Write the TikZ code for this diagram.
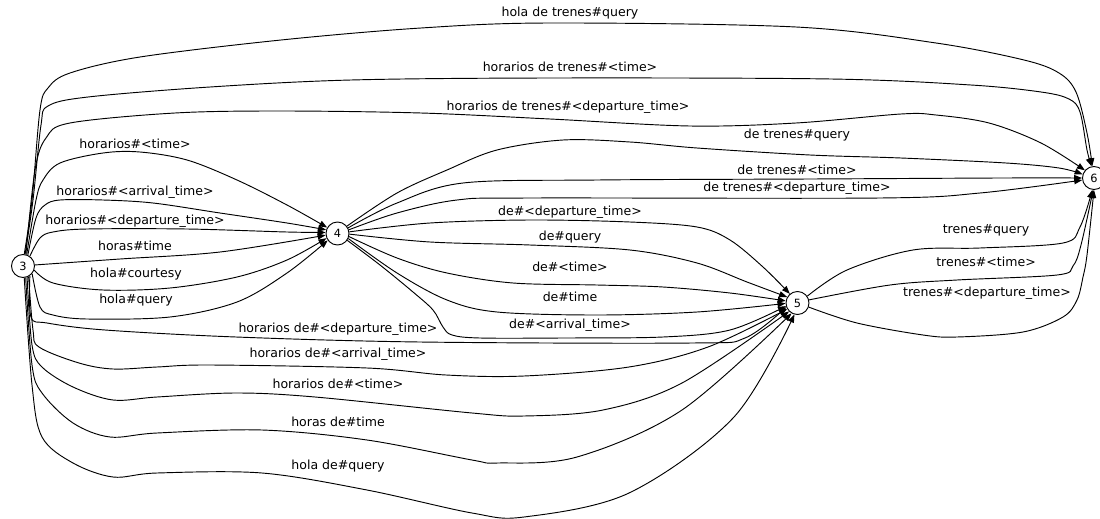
\documentclass[tikz,border=0pt]{standalone}
\usepackage{fontspec}
\setmainfont{DejaVu Sans}
\usetikzlibrary{arrows.meta}
\begin{document}
\begin{tikzpicture}[x=0.75pt,y=-0.75pt,
  state/.style={circle,draw,line width=0.7pt,minimum size=17.25pt,inner sep=0pt,
                font=\fontsize{8.5}{10}\selectfont},
  edge/.style={line width=0.7pt,-{Triangle[length=6pt,width=4.5pt]}},
  lbl/.style={font=\fontsize{9.4}{11}\selectfont,inner sep=0pt}]
\useasboundingbox (0,0) rectangle (1100,518);

% states
\node[state] (n3) at (23,266) {3};
\node[state] (n4) at (337.5,233.5) {4};
\node[state] (n5) at (797.5,303) {5};
\node[state] (n6) at (1094,178) {6};

% 3 -> 6
\draw[edge] plot[smooth,tension=0.55] coordinates {(n3.84) (32,200) (40,110) (48,88) (70,73) (140,57) (281,40) (421,28) (550,23) (796,27) (936,43) (1024,60) (1059,73) (1076,92) (1087,133) (n6.98)};
\draw[edge] plot[smooth,tension=0.55] coordinates {(n3.80) (33,200) (41,125) (48,106) (88,97) (210,87) (351,80) (550,78) (831,79) (971,85) (1041,92) (1069,99) (1080,112) (1087,150) (n6.102)};
\draw[edge] plot[smooth,tension=0.55] coordinates {(n3.76) (35,170) (46,138) (70,123) (175,113) (281,111) (421,113) (550,119) (690,126) (796,123) (901,114) (936,115) (989,123) (1041,143) (n6.140)};

% 3 -> 4
\draw[edge] plot[smooth,tension=0.55] coordinates {(n3.72) (36,200) (43,180) (60,163) (103,153) (140,152) (187,160) (237,180) (287,205) (n4.150)};
\draw[edge] plot[smooth,tension=0.55] coordinates {(n3.66) (36,218) (45,205) (60,200) (103,200) (153,203) (220,213) (287,223) (n4.162)};
\draw[edge] plot[smooth,tension=0.55] coordinates {(n3.55) (40,238) (53,232) (87,229) (187,229) (287,232) (n4.175)};
\draw[edge] plot[smooth,tension=0.55] coordinates {(n3.5) (120,259) (220,252) (n4.188)};
\draw[edge] plot[smooth,tension=0.55] coordinates {(n3.340) (53,283) (103,290) (170,288) (237,277) (287,260) (n4.203)};
\draw[edge] plot[smooth,tension=0.55] coordinates {(n3.320) (40,307) (53,315) (87,319) (170,317) (237,302) (287,273) (n4.215)};

% 4 -> 6
\draw[edge] plot[smooth,tension=0.55] coordinates {(n4.38) (397,193) (447,170) (497,150) (563,140) (630,142) (697,148) (810,155) (901,158) (1006,163) (1059,168) (n6.162)};
\draw[edge] plot[smooth,tension=0.55] coordinates {(n4.28) (397,203) (463,183) (597,180) (810,179) (1000,178) (n6.180)};
\draw[edge] plot[smooth,tension=0.55] coordinates {(n4.18) (397,213) (457,200) (530,198) (880,198) (980,193) (n6.190)};

% 4 -> 5
\draw[edge] plot[smooth,tension=0.55] coordinates {(n4.8) (430,223) (530,220) (630,222) (697,227) (730,240) (763,267) (n5.130)};
\draw[edge] plot[smooth,tension=0.55] coordinates {(n4.357) (430,242) (530,245) (630,250) (697,263) (747,282) (n5.150)};
\draw[edge] plot[smooth,tension=0.55] coordinates {(n4.345) (397,258) (447,273) (513,283) (597,285) (663,287) (730,293) (n5.170)};
\draw[edge] plot[smooth,tension=0.55] coordinates {(n4.335) (397,273) (447,300) (497,312) (597,315) (697,312) (n5.182)};
\draw[edge] plot[smooth,tension=0.55] coordinates {(n4.325) (380,265) (413,292) (433,310) (443,327) (452,335) (480,338) (563,338) (663,337) (730,330) (n5.195)};

% 3 -> 5
\draw[edge] plot[smooth,tension=0.55] coordinates {(n3.305) (31,317) (47,323) (105,330) (236,337) (420,342) (692,343) (745,338) (n5.200)};
\draw[edge] plot[smooth,tension=0.55] coordinates {(n3.298) (33,330) (39,347) (79,363) (113,369) (157,367) (210,365) (367,368) (446,375) (524,376) (629,367) (708,347) (n5.210)};
\draw[edge] plot[smooth,tension=0.55] coordinates {(n3.290) (32,345) (42,367) (73,387) (113,400) (157,397) (236,393) (315,397) (472,413) (524,416) (603,410) (682,383) (n5.225)};
\draw[edge] plot[smooth,tension=0.55] coordinates {(n3.283) (32,365) (42,393) (73,423) (110,437) (157,433) (262,430) (367,440) (472,460) (498,463) (577,457) (682,410) (n5.240)};
\draw[edge] plot[smooth,tension=0.55] coordinates {(n3.276) (32,385) (42,437) (73,463) (113,477) (157,473) (262,473) (367,490) (472,513) (524,517) (629,493) (734,417) (n5.255)};

% 5 -> 6
\draw[edge] plot[smooth,tension=0.55] coordinates {(n5.35) (847,270) (913,250) (980,248) (1063,243) (1080,227) (n6.262)};
\draw[edge] plot[smooth,tension=0.55] coordinates {(n5.15) (890,285) (957,280) (1057,275) (1073,266) (1081,245) (n6.266)};
\draw[edge] plot[smooth,tension=0.55] coordinates {(n5.340) (857,323) (923,335) (957,337) (1023,332) (1063,317) (1077,300) (1083,277) (1087,255) (n6.270)};

% edge labels
\node[lbl] (l1) at (570,13) {hola de trenes\#query};
\node[lbl] (l2) at (570,67) {horarios de trenes\#<time>};
\node[lbl] (l3) at (568,107) {horarios de trenes\#<departure\_time>};
\node[lbl] (l4) at (135,144) {horarios\#<time>};
\node[lbl] (l5) at (135,192) {horarios\#<arrival\_time>};
\node[lbl] (l6) at (135,221) {horarios\#<departure\_time>};
\node[lbl] (l7) at (135,246) {horas\#time};
\node[lbl] (l8) at (136,274) {hola\#courtesy};
\node[lbl] (l9) at (136,300) {hola\#query};
\node[lbl] (l10) at (797,135) {de trenes\#query};
\node[lbl] (l11) at (797,170) {de trenes\#<time>};
\node[lbl] (l12) at (797,188) {de trenes\#<departure\_time>};
\node[lbl] (l13) at (570,212) {de\#<departure\_time>};
\node[lbl] (l14) at (570,237) {de\#query};
\node[lbl] (l15) at (570,267) {de\#<time>};
\node[lbl] (l16) at (570,297) {de\#time};
\node[lbl] (l17) at (570,325) {de\#<arrival\_time>};
\node[lbl] (l18) at (338,329) {horarios de\#<departure\_time>};
\node[lbl] (l19) at (338,354) {horarios de\#<arrival\_time>};
\node[lbl] (l20) at (338,384) {horarios de\#<time>};
\node[lbl] (l21) at (338,422) {horas de\#time};
\node[lbl] (l22) at (338,466) {hola de\#query};
\node[lbl] (l23) at (986,230) {trenes\#query};
\node[lbl] (l24) at (986,262) {trenes\#<time>};
\node[lbl] (l25) at (987,293) {trenes\#<departure\_time>};
\end{tikzpicture}
\end{document}
